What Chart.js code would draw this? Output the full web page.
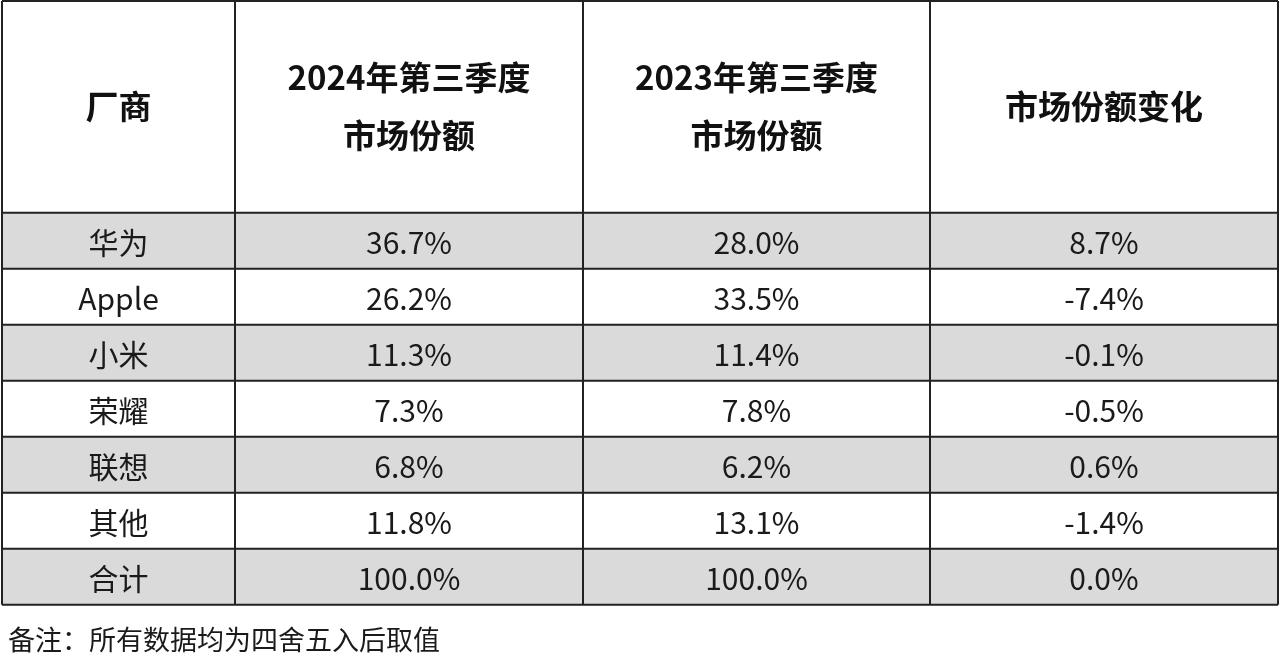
<!DOCTYPE html>
<html lang="zh">
<head>
<meta charset="UTF-8">
<title>市场份额</title>
<script src="https://cdn.jsdelivr.net/npm/chart.js"></script>
<style>
  html, body { margin: 0; padding: 0; background: #fff; }
  #wrap { width: 1280px; height: 666px; }
</style>
</head>
<body>
<div id="wrap"><canvas id="tbl"></canvas></div>
<script>
// table data
const headers = ['厂商', '2024年第三季度\n市场份额', '2023年第三季度\n市场份额', '市场份额变化'];
const vendors = ['华为', 'Apple', '小米', '荣耀', '联想', '其他', '合计'];
const share2024 = [36.7, 26.2, 11.3, 7.3, 6.8, 11.8, 100.0];
const share2023 = [28.0, 33.5, 11.4, 7.8, 6.2, 13.1, 100.0];
const shareChange = [8.7, -7.4, -0.1, -0.5, 0.6, -1.4, 0.0];
const note = '备注：所有数据均为四舍五入后取值';

// layout (scale units)
const colEdges = [2, 235, 583, 930, 1278];
const headerH = 3.8;   // y units, one body row = 1 unit
const FONT = '"Noto Sans CJK SC", "Noto Sans", sans-serif';

const tablePlugin = {
  id: 'tablePlugin',
  afterDraw(chart) {
    const { ctx, scales: { x, y } } = chart;
    const rowTop = i => y.getPixelForValue(headerH + i);
    const cols = colEdges.map(v => x.getPixelForValue(v));
    const nRows = vendors.length;
    ctx.save();

    // grey stripes
    vendors.forEach((v, i) => {
      if (i % 2 === 0) {
        ctx.fillStyle = '#dadada';
        ctx.fillRect(cols[0], rowTop(i), cols[4] - cols[0], rowTop(i + 1) - rowTop(i));
      }
    });

    // grid
    ctx.strokeStyle = '#222';
    ctx.lineWidth = 2;
    ctx.beginPath();
    const top = y.getPixelForValue(0.02), bottom = rowTop(nRows);
    cols.forEach(c => { ctx.moveTo(c, top); ctx.lineTo(c, bottom); });
    ctx.moveTo(cols[0], top); ctx.lineTo(cols[4], top);
    for (let i = 0; i <= nRows; i++) {
      ctx.moveTo(cols[0], rowTop(i)); ctx.lineTo(cols[4], rowTop(i));
    }
    ctx.stroke();

    // header text
    ctx.fillStyle = '#111';
    ctx.textAlign = 'center';
    ctx.textBaseline = 'middle';
    ctx.font = 'bold 33px ' + FONT;
    const hMid = y.getPixelForValue(headerH / 2);
    headers.forEach((h, c) => {
      const lines = h.split('\n');
      const cx = (cols[c] + cols[c + 1]) / 2;
      lines.forEach((ln, k) => {
        ctx.fillText(ln, cx, hMid + (k - (lines.length - 1) / 2) * 58);
      });
    });

    // body text
    ctx.font = '30px ' + FONT;
    ctx.fillStyle = '#1a1a1a';
    vendors.forEach((v, i) => {
      const cy = (rowTop(i) + rowTop(i + 1)) / 2 + 2;
      const cells = [v, share2024[i].toFixed(1) + '%', share2023[i].toFixed(1) + '%', shareChange[i].toFixed(1) + '%'];
      cells.forEach((t, c) => ctx.fillText(t, (cols[c] + cols[c + 1]) / 2, cy));
    });

    // note
    ctx.textAlign = 'left';
    ctx.font = '27px ' + FONT;
    ctx.fillText(note, x.getPixelForValue(8), y.getPixelForValue(headerH + nRows + 0.62));
    ctx.restore();
  }
};

new Chart(document.getElementById('tbl').getContext('2d'), {
  type: 'scatter',
  data: { datasets: [{ data: [] }] },
  options: {
    responsive: true,
    maintainAspectRatio: false,
    animation: false,
    layout: { padding: 0 },
    plugins: { legend: { display: false }, tooltip: { enabled: false } },
    scales: {
      x: { type: 'linear', min: 0, max: 1280, display: false },
      y: { type: 'linear', min: 0, max: 666 / 56, reverse: true, display: false }
    }
  },
  plugins: [tablePlugin]
});
</script>
</body>
</html>
